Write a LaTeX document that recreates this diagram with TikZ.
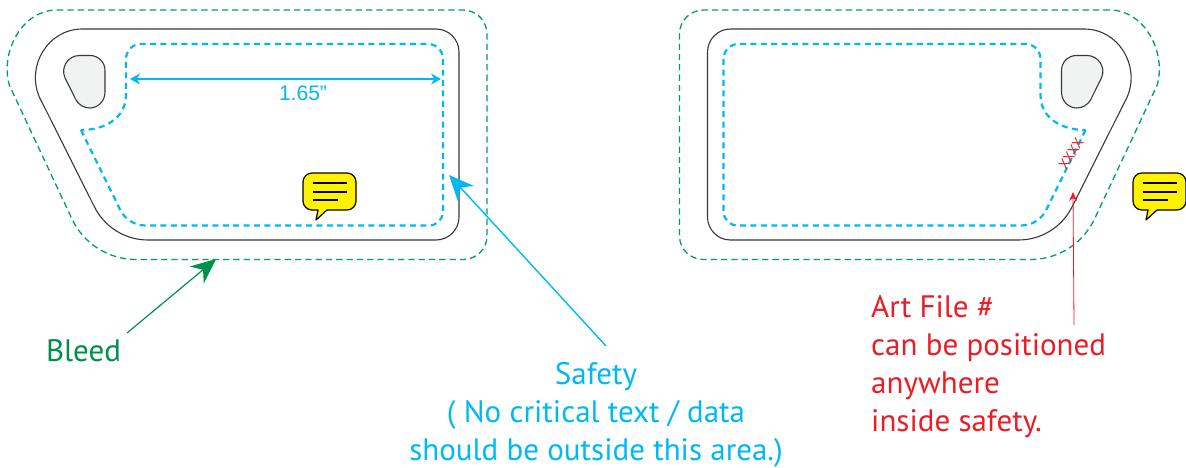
\documentclass[tikz,border=0pt]{standalone}
\usepackage{fontspec}
\setmainfont{PT Sans}
\newfontfamily\dimfont{Liberation Sans}
\usetikzlibrary{arrows.meta}
\definecolor{safetycyan}{HTML}{00B9F2}
\definecolor{bleedgreen}{HTML}{00A05A}
\definecolor{labelgreen}{HTML}{008F4C}
\definecolor{artred}{HTML}{ED1C24}
\definecolor{holegray}{HTML}{F1F2F2}
\tikzset{
	trimline/.style={draw=black!78,line width=1.1pt},
	bleedline/.style={draw=bleedgreen,line width=1.3pt,dash pattern=on 6.3pt off 4pt},
	safetyline/.style={draw=safetycyan,line width=2.2pt,dash pattern=on 6pt off 4.4pt},
	biglabel/.style={font=\fontsize{31}{38}\selectfont,inner sep=0pt},
	cardoutline/.pic={
		\path[bleedline] (57,10) -- (463,10) .. controls (476.2,10) and (487,20.8) .. (487,34) -- (487,236) .. controls (487,249.2) and (476.2,259.5) .. (463,259.5) -- (136,259.5) .. controls (108.5,259.5) and (83.6,243.7) .. (71.9,218.8) -- (9.3,85.1) .. controls (0,52) and (22,10) .. (57,10) -- cycle;
		\path[trimline] (82.4,29) -- (436,29) .. controls (448.7,29) and (459,39.3) .. (459,52) -- (459,217) .. controls (459,229.7) and (448.7,240) .. (436,240) -- (148,240) .. controls (124.8,240) and (103.7,226.6) .. (93.8,205.6) -- (39.3,96.9) .. controls (26,65.8) and (48,29) .. (82.4,29) -- cycle;
		\path[safetyline] (81,130) -- (119.9,209.2) .. controls (124.6,219.2) and (134.5,225.5) .. (145.5,225.5) -- (429,225.5) .. controls (436.7,225.5) and (443,219.2) .. (443,211.5) -- (443,59) .. controls (443,50.7) and (436.3,44) .. (428,44) -- (141,44) .. controls (132.7,44) and (126,50.7) .. (126,59) -- (126,95) .. controls (126,118) and (105,130) .. (81,130) -- cycle;
		\path[trimline,fill=holegray] (79.5,55.5) -- (90,55.5) .. controls (98.3,55.5) and (105,62) .. (105,70.5) -- (105,92) .. controls (105,102) and (97,108) .. (90,108) .. controls (84,108) and (79,105) .. (76,100) -- (65.1,78.1) .. controls (60.2,67.7) and (68,55.5) .. (79.5,55.5) -- cycle;
	},
	chatbubble/.pic={
		\path[draw=black,fill=yellow,line width=1.2pt,line join=round] (15,37) -- (13,47) -- (24,37) [rounded corners=9pt] -- (53,37) -- (53,0) -- (0,0) -- (0,37) [sharp corners] -- cycle;
		\draw[line width=1.1pt] (9.5,10) -- (43.5,10) (9.5,19) -- (43.5,19) (9.5,27) -- (34.5,27);
	},
}
\begin{document}
\begin{tikzpicture}[x=1pt,y=-1pt]
	\useasboundingbox (0,0) rectangle (1186,468);
	\pic at (0,0) {cardoutline};
	\pic[xscale=-1] at (1166.5,0) {cardoutline};
	\pic at (303,173) {chatbubble};
	\pic at (1133,173) {chatbubble};
	% width mark
	\coordinate (dimleft) at (130,79);
	\coordinate (dimright) at (441,79);
	\draw[{Stealth[length=10pt,width=11pt]}-{Stealth[length=10pt,width=11pt]},safetycyan,line width=1.4pt] (dimleft) -- (dimright);
	\node[safetycyan,font=\dimfont\fontsize{21}{21}\selectfont,inner sep=0pt] (dimlabel) at (303,93) {1.65”};
	% labels
	\node[biglabel,labelgreen] (bleedlabel) at (83.5,351) {Bleed};
	\node[biglabel,safetycyan,align=center,anchor=north] (safetylabel) at (596,362.5) {Safety\\( No critical text / data\\should be outside this area.)};
	\node[biglabel,artred,align=left,anchor=north west] (artlabel) at (871,295.5) {Art File \#\\can be positioned\\anywhere\\inside safety.};
	\node[artred,rotate=57,font=\fontsize{14}{14}\selectfont,inner sep=0pt] (artmark) at (1071,153.5) {XXXX};
	% pointers
	\coordinate (bleedtail) at (127,333);
	\coordinate (bleedtip) at (216,259);
	\coordinate (safetytail) at (606,346);
	\coordinate (safetytip) at (449,175);
	\coordinate (arttail) at (1074,325);
	\coordinate (arttip) at (1073,192);
	\draw[-{Stealth[length=25pt,width=22pt]},labelgreen,line width=1.2pt] (bleedtail) -- (bleedtip);
	\draw[-{Stealth[length=25pt,width=22pt]},safetycyan,line width=1.4pt] (safetytail) -- (safetytip);
	\draw[-{Stealth[length=9pt,width=8pt]},artred,line width=0.8pt] (arttail) -- (arttip);
\end{tikzpicture}
\end{document}
